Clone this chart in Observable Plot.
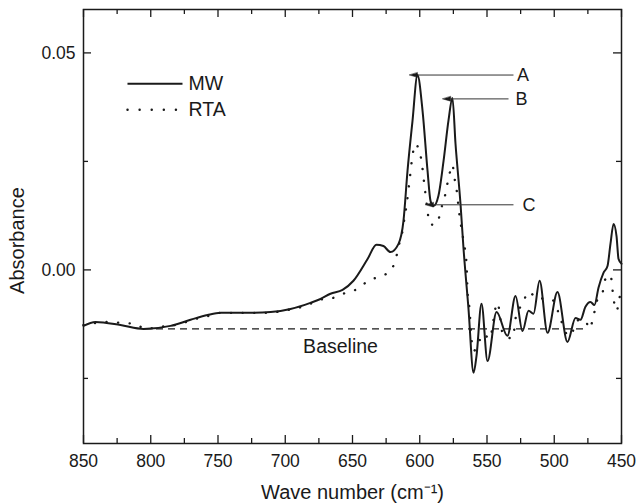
<!DOCTYPE html>
<html><head><meta charset="utf-8">
<script src="https://cdn.jsdelivr.net/npm/d3@7"></script>
<script src="https://cdn.jsdelivr.net/npm/@observablehq/plot@0.6"></script>
<style>body{margin:0;background:#fff} #chart svg{display:block}</style>
</head><body><div id="chart"></div>
<script>
// MW (microwave) spectrum
const mwX = [850, 841.1, 822.5, 805.4, 785.3, 770.4, 757.8, 748.1, 728.1, 710.9, 696.1, 681.3, 673.8, 666.4, 657.4, 649.3, 638.8, 632.2, 627.0, 621.8, 615.8, 612.1, 609.1, 605.4, 601.7, 597.9, 594.2, 592.0, 589.8, 586.1, 582.3, 578.6, 575.7, 573.4, 569.7, 567.5, 563.8, 560.0, 557.8, 554.1, 549.6, 542.9, 534.8, 528.8, 523.6, 519.1, 515.4, 510.9, 505.0, 497.6, 490.2, 484.2, 480.5, 476.8, 473.1, 470.1, 467.1, 463.4, 460.4, 458.2, 455.9, 453.7, 452.2, 450];
const mwY = [-0.0129, -0.0120, -0.0127, -0.0136, -0.0129, -0.0115, -0.0104, -0.0099, -0.0099, -0.0097, -0.0090, -0.0076, -0.0067, -0.0055, -0.0046, -0.0025, 0.0025, 0.0058, 0.0055, 0.0041, 0.0060, 0.0113, 0.0228, 0.0343, 0.0449, 0.0366, 0.0228, 0.0159, 0.0147, 0.0171, 0.0251, 0.0345, 0.0396, 0.0290, 0.0152, 0.0051, -0.0088, -0.0237, -0.0198, -0.0078, -0.0210, -0.0097, -0.0152, -0.0060, -0.0141, -0.0094, -0.0101, -0.0025, -0.0145, -0.0051, -0.0166, -0.0111, -0.0115, -0.0085, -0.0074, -0.0081, -0.0041, -0.0007, 0.0009, 0.0060, 0.0106, 0.0078, 0.0025, 0.0014];
// RTA spectrum
const rtaX = [850, 831.4, 822.5, 812.8, 803.2, 793.5, 785.3, 775.7, 766.7, 757.1, 748.1, 729.6, 710.9, 702.0, 693.9, 683.5, 674.5, 664.9, 655.2, 646.3, 637.4, 627.7, 620.3, 617.3, 615.1, 612.8, 611.3, 609.9, 607.6, 605.4, 603.2, 600.9, 598.7, 596.5, 594.2, 592.8, 589.8, 586.8, 584.6, 581.6, 577.9, 575.7, 574.2, 572.7, 570.5, 567.5, 565.2, 564.5, 563.0, 561.5, 560.0, 556.3, 552.6, 548.1, 544.4, 542.9, 541.5, 538.5, 534.8, 531.0, 528.1, 522.9, 519.9, 516.9, 512.5, 505.8, 500.6, 495.3, 490.9, 487.9, 484.2, 480.5, 476.0, 473.8, 470.8, 467.8, 464.1, 462.6, 458.2, 455.9, 453.7, 451.5, 450];
const rtaY = [-0.0127, -0.0120, -0.0122, -0.0124, -0.0136, -0.0131, -0.0129, -0.0122, -0.0113, -0.0106, -0.0099, -0.0099, -0.0099, -0.0094, -0.0090, -0.0081, -0.0069, -0.0065, -0.0053, -0.0044, -0.0023, -0.0014, 0.0005, 0.0032, 0.0062, 0.0090, 0.0120, 0.0147, 0.0205, 0.0263, 0.0290, 0.0279, 0.0251, 0.0194, 0.0136, 0.0106, 0.0104, 0.0108, 0.0136, 0.0166, 0.0221, 0.0242, 0.0212, 0.0187, 0.0127, 0.0067, 0.0014, -0.0048, -0.0090, -0.0159, -0.0187, -0.0168, -0.0147, -0.0159, -0.0101, -0.0076, -0.0083, -0.0145, -0.0157, -0.0157, -0.0101, -0.0076, -0.0051, -0.0055, -0.0067, -0.0065, -0.0071, -0.0113, -0.0147, -0.0152, -0.0124, -0.0113, -0.0122, -0.0136, -0.0106, -0.0067, -0.0053, -0.0025, -0.0012, -0.0067, -0.0094, -0.0065, -0.0037];

const xMajor = [850, 800, 750, 700, 650, 600, 550, 500, 450];
const xMinor = [825, 775, 725, 675, 625, 575, 525, 475];
const yMajor = [0.05, 0.00];
const yMinor = [0.025, -0.025];

const seriesNames = ["MW", "RTA"];
const legendY = [0.0429, 0.0369];

const peakLabels = ["A", "B", "C"];
const peakTipX = [601.7, 577.0, 589.8];
const peakTipY = [0.0449, 0.0394, 0.0150];
const peakTailX = [530.3, 534.0, 530.3];
const peakTextX = [523.3, 524.4, 518.8];

const baselineValue = -0.0136;
const baselineFrom = 805, baselineTo = 475;

const mw = mwX.map((w, i) => ({w, a: mwY[i]}));
const rta = rtaX.map((w, i) => ({w, a: rtaY[i]}));
const legend = seriesNames.map((name, i) => ({name, y: legendY[i], x1: 817.3, x2: 776.4, xt: 771.9}));
const peaks = peakLabels.map((label, i) => ({label, tx: peakTipX[i], ty: peakTipY[i], sx: peakTailX[i], lx: peakTextX[i]}));

const W = 638, H = 503, mL = 83, mR = 17, mT = 9, mB = 60;
const fw = W - mL - mR, fh = H - mT - mB;
const tickFont = 17.5, titleFont = 20, legendFont = 19.5, noteFont = 18;
const ink = "#1a1a1a";

const headShape = {draw(context, l, r) {
  context.moveTo(0, -l);
  context.lineTo(-2.3, 0);
  context.lineTo(2.3, 0);
  context.closePath();
}};

const chart = Plot.plot({
  width: W, height: H,
  marginLeft: mL, marginRight: mR, marginTop: mT, marginBottom: mB,
  style: {fontFamily: "'Liberation Sans', Arial, Helvetica, sans-serif", fontSize: "16px", color: ink, background: "#fff"},
  x: {domain: [850, 450], label: null},
  y: {domain: [-0.04, 0.06], label: null},
  marks: [
    // ticks (inward, mirrored)
    Plot.tickX(xMajor, {x: d => d, insetTop: fh - 8, stroke: ink, strokeWidth: 1.3}),
    Plot.tickX(xMinor, {x: d => d, insetTop: fh - 5, stroke: ink, strokeWidth: 1.3}),
    Plot.tickX(xMajor, {x: d => d, insetBottom: fh - 8, stroke: ink, strokeWidth: 1.3}),
    Plot.tickX(xMinor, {x: d => d, insetBottom: fh - 5, stroke: ink, strokeWidth: 1.3}),
    Plot.tickY(yMajor, {y: d => d, insetRight: fw - 8, stroke: ink, strokeWidth: 1.3}),
    Plot.tickY(yMinor, {y: d => d, insetRight: fw - 5, stroke: ink, strokeWidth: 1.3}),
    Plot.tickY(yMajor, {y: d => d, insetLeft: fw - 8, stroke: ink, strokeWidth: 1.3}),
    Plot.tickY(yMinor, {y: d => d, insetLeft: fw - 5, stroke: ink, strokeWidth: 1.3}),
    // tick labels
    Plot.axisX(xMajor, {anchor: "bottom", tickSize: 0, tickPadding: 11, fontSize: tickFont, fill: ink}),
    Plot.axisY(yMajor, {anchor: "left", tickSize: 0, tickPadding: 8, fontSize: tickFont, fill: ink, tickFormat: d3.format(".2f")}),
    // baseline
    Plot.link([{}], {x1: () => baselineFrom, x2: () => baselineTo, y1: () => baselineValue, y2: () => baselineValue, stroke: ink, strokeWidth: 1.3, strokeDasharray: "7,5"}),
    Plot.text(["Baseline"], {x: () => 658.9, y: () => -0.01765, text: d => d, fontSize: legendFont, fill: ink}),
    // spectra
    Plot.line(rta, {x: "w", y: "a", curve: "monotone-x", stroke: ink, strokeWidth: 2.4, strokeDasharray: "0.1,11.5", strokeLinecap: "round"}),
    Plot.line(mw, {x: "w", y: "a", curve: "monotone-x", stroke: ink, strokeWidth: 2}),
    // legend
    Plot.link(legend.slice(0, 1), {x1: "x1", x2: "x2", y1: "y", y2: "y", stroke: ink, strokeWidth: 2}),
    Plot.link(legend.slice(1), {x1: "x1", x2: "x2", y1: "y", y2: "y", stroke: ink, strokeWidth: 2.4, strokeDasharray: "0.1,12", strokeLinecap: "round"}),
    Plot.text(legend, {x: "xt", y: "y", text: "name", textAnchor: "start", fontSize: legendFont, fill: ink}),
    // peak annotations
    Plot.link(peaks, {x1: "sx", x2: "tx", y1: "ty", y2: "ty", stroke: "#333", strokeWidth: 1}),
    Plot.vector(peaks, {x: "tx", y: "ty", length: 8, rotate: 270, anchor: "start", shape: headShape, fill: ink, stroke: ink, strokeWidth: 0.5}),
    Plot.text(peaks, {x: "lx", y: "ty", text: "label", fontSize: noteFont, fill: ink}),
    // axis titles
    Plot.text(["Absorbance"], {frameAnchor: "left", textAnchor: "middle", lineAnchor: "middle", rotate: -90, dx: -66, dy: 14, fontSize: titleFont, fill: ink}),
    Plot.text(["Wave number (cm\u207B\u00B9)"], {frameAnchor: "bottom", textAnchor: "middle", lineAnchor: "middle", dy: 49, fontSize: titleFont, fill: ink}),
    Plot.frame({stroke: ink, strokeWidth: 1.5})
  ]
});
document.getElementById("chart").append(chart);
</script>
</body></html>
